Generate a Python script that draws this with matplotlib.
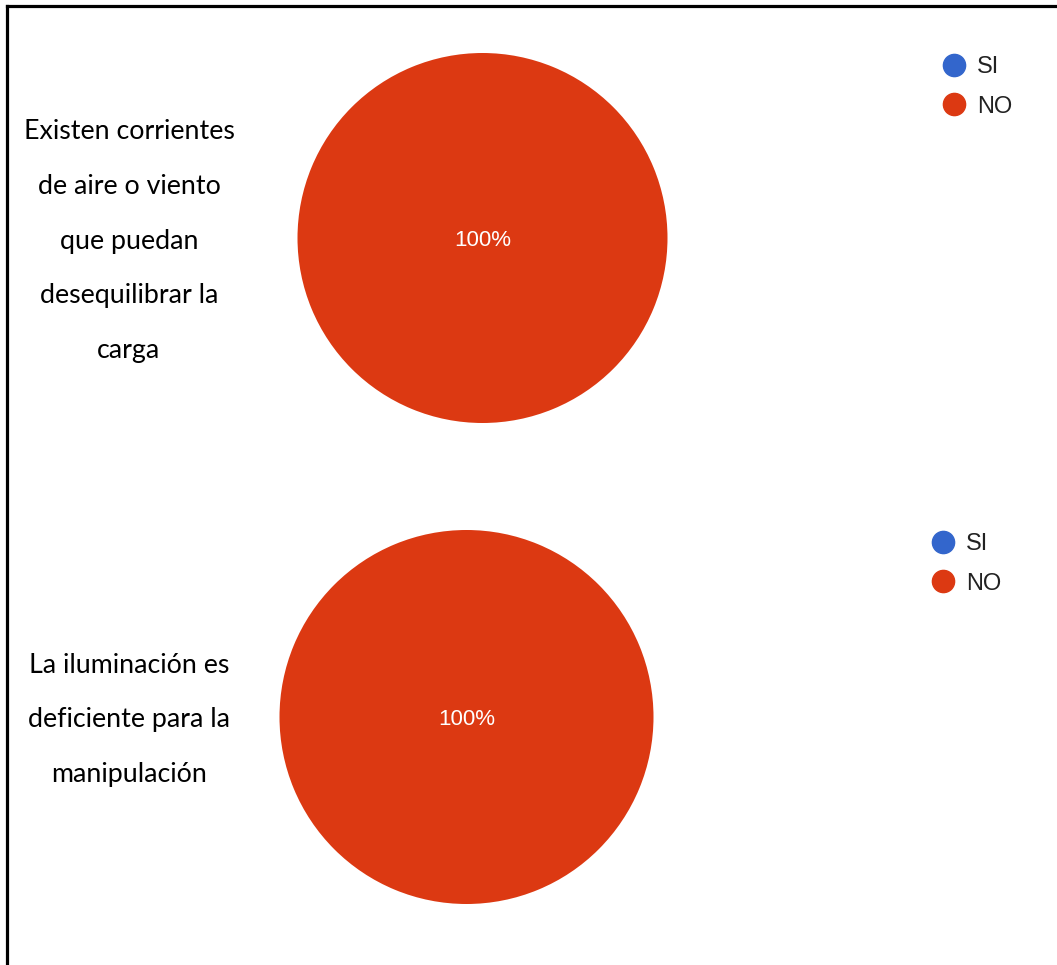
import matplotlib.pyplot as plt
from matplotlib.lines import Line2D

# survey answers (percent of respondents)
categories = ["SI", "NO"]
colors = ["#3366CC", "#DC3912"]
questions = [
    "Existen corrientes\nde aire o viento\nque puedan\ndesequilibrar la\ncarga",
    "La iluminación es\ndeficiente para la\nmanipulación",
]
answers_q1 = [0, 100]
answers_q2 = [0, 100]

W, H = 1057, 965
fig = plt.figure(figsize=(W / 100, H / 100), dpi=100)


def px_axes(cx, cy, r):
    # square axes centred on (cx, cy) in pixel coords (origin top-left)
    return fig.add_axes([(cx - r) / W, (H - cy - r) / H, 2 * r / W, 2 * r / H])


def pct_label(p):
    return f"{p:.0f}%" if p > 0 else ""


def draw_question(values, text, pie_c, r, text_c, leg_xy):
    ax = px_axes(pie_c[0], pie_c[1], r)
    wedges, _, autotexts = ax.pie(values, colors=colors, startangle=90,
                                  counterclock=False, autopct=pct_label,
                                  pctdistance=0, radius=1,
                                  wedgeprops=dict(linewidth=0))
    for t in autotexts:
        t.set_color("white")
        t.set_fontsize(16)
        t.set_family("Liberation Sans")
        t.set_y(-0.015)
    ax.set_xlim(-1, 1)
    ax.set_ylim(-1, 1)

    fig.text(text_c[0] / W, 1 - text_c[1] / H, text, ha="center", va="center",
             fontsize=19.3, family="Lato", linespacing=2.48, color="black")

    handles = [Line2D([], [], marker="o", linestyle="", markersize=16,
                      markerfacecolor=c, markeredgecolor=c) for c in colors]
    fig.legend(handles, categories, loc="upper left",
               bbox_to_anchor=(leg_xy[0] / W, 1 - leg_xy[1] / H),
               frameon=False, handletextpad=0.0, labelspacing=0.75,
               borderaxespad=0, borderpad=0,
               prop=dict(family="Liberation Sans", size=17),
               labelcolor="#222222")


draw_question(answers_q1, questions[0], (482.5, 238), 185, (129, 241), (930, 56))
draw_question(answers_q2, questions[1], (466.5, 717), 187, (129, 720), (919, 533))

# outer frame (top and left edges)
fig.add_artist(Line2D([7 / W, 7 / W], [0, 1 - 6 / H], color="black", lw=2.3,
                      transform=fig.transFigure, solid_capstyle="projecting"))
fig.add_artist(Line2D([7 / W, 1056 / W], [1 - 6 / H, 1 - 6 / H], color="black", lw=2.3,
                      transform=fig.transFigure, solid_capstyle="projecting"))

fig.savefig("out.png", dpi=100, facecolor="white")
